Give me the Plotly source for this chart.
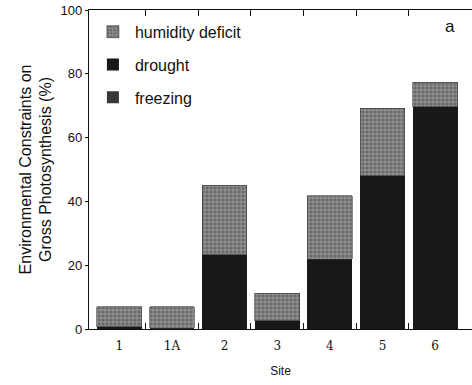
import plotly.graph_objects as go

sites = ["1", "1A", "2", "3", "4", "5", "6"]
drought = [0.7, 0.3, 23.2, 2.6, 21.9, 48.1, 69.7]
freezing = [0, 0, 0, 0, 0, 0, 0]
humidity_total = [7.0, 7.0, 45.1, 11.2, 41.8, 69.2, 77.3]
humidity = [round(t - d - f, 2) for t, d, f in zip(humidity_total, drought, freezing)]
y_ticks = [0, 20, 40, 60, 80, 100]

xpos = list(range(len(sites)))
bounds = [i + 0.5 for i in range(len(sites) - 1)]

fig = go.Figure()
fig.add_trace(go.Bar(x=xpos, y=drought, name="drought", width=0.85,
                     marker=dict(color="#181818", line=dict(width=0)),
                     legendgroup="b", legendrank=2))
fig.add_trace(go.Bar(x=xpos, y=freezing, name="freezing", width=0.85,
                     marker=dict(color="#383838", line=dict(width=0)),
                     legendgroup="c", legendrank=3))
fig.add_trace(go.Bar(x=xpos, y=humidity, name="humidity deficit", width=0.85,
                     marker=dict(color="#808080", line=dict(width=0.6, color="#333"),
                                 pattern=dict(shape=".", fgcolor="#444444", bgcolor="#8e8e8e",
                                              size=4, solidity=0.5)),
                     legendgroup="a", legendrank=1))
# invisible trace to carry the category label axis
fig.add_trace(go.Scatter(x=xpos, y=[0]*len(xpos), xaxis="x2", mode="markers",
                         marker=dict(opacity=0), showlegend=False, hoverinfo="skip"))

fig.update_layout(
    width=472, height=385,
    margin=dict(l=89, r=0, t=10, b=56),
    barmode="stack",
    plot_bgcolor="white", paper_bgcolor="white",
    font=dict(family="Liberation Sans, Arial", color="#111"),
    showlegend=True,
    legend=dict(x=0.005, y=0.985, xanchor="left", yanchor="top",
                font=dict(size=16, color="#111"), tracegroupgap=9,
                bgcolor="rgba(0,0,0,0)", itemwidth=34),
    xaxis=dict(range=[-0.575, 6.7], tickmode="array", tickvals=bounds,
               ticktext=[""] * len(bounds), ticks="inside", ticklen=6,
               tickcolor="#111", showline=True, linecolor="#111", linewidth=1.2,
               mirror="ticks", showgrid=False, zeroline=False),
    xaxis2=dict(overlaying="x", side="bottom", matches="x", range=[-0.575, 6.7],
                tickmode="array", tickvals=xpos, ticktext=sites, ticks="",
                showline=False, showgrid=False, zeroline=False,
                ticklabelstandoff=8,
                tickfont=dict(family="DejaVu Serif, Liberation Serif", size=12),
                title=dict(text="Site", font=dict(size=12), standoff=14)),
    yaxis=dict(range=[0, 100], tickmode="array", tickvals=y_ticks,
               ticks="outside", ticklen=3, tickcolor="#111",
               showline=True, linecolor="#111", linewidth=1.2,
               showgrid=False, zeroline=False, tickfont=dict(size=13),
               title=dict(text="Environmental Constraints on<br>Gross Photosynthesis (%)",
                          font=dict(size=16), standoff=4)),
    annotations=[dict(text="a", x=0.96, y=0.985, xref="paper", yref="paper",
                      showarrow=False, font=dict(size=17, color="#111"))],
)

fig.write_html("out.html")
